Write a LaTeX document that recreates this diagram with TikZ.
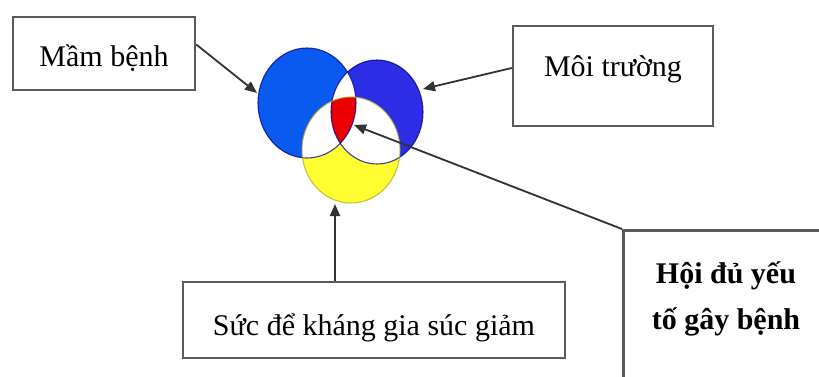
\documentclass[tikz,border=0pt]{standalone}
\usepackage{fontspec}
\setmainfont{Liberation Serif}
\usetikzlibrary{arrows.meta}
\definecolor{lblue}{RGB}{10,90,240}
\definecolor{rblue}{RGB}{45,45,230}
\definecolor{vyellow}{RGB}{255,255,50}
\definecolor{vred}{RGB}{235,0,0}
\definecolor{boxgray}{RGB}{90,90,90}
\definecolor{arrowgray}{RGB}{50,50,50}
\definecolor{blueedge}{RGB}{0,0,140}
\definecolor{yedge}{RGB}{180,170,40}
\begin{document}
\begin{tikzpicture}[x=1pt,y=-1pt,
  box/.style={draw=boxgray, line width=2.5pt, fill=white, inner sep=0pt},
  lbl/.style={font=\fontsize{30}{45}\selectfont},
  blbl/.style={font=\fontsize{30}{46}\selectfont\bfseries},
  arr/.style={draw=arrowgray, line width=1.8pt, -{Triangle[length=12pt,width=10pt]}},
  edge/.style={line width=1.1pt, draw opacity=0.75},
]
\useasboundingbox (0,0) rectangle (819,377);
\clip (0,0) rectangle (819,377);
\fill[white] (0,0) rectangle (819,377);

% three circles
\fill[lblue] (307,103) ellipse [x radius=49, y radius=55];
\fill[rblue] (377,112) ellipse [x radius=46, y radius=52];
\fill[vyellow] (351,150) ellipse [x radius=49, y radius=53];
% pairwise intersections (white)
\begin{scope}
  \clip (307,103) ellipse [x radius=49, y radius=55];
  \fill[white] (377,112) ellipse [x radius=46, y radius=52];
  \fill[white] (351,150) ellipse [x radius=49, y radius=53];
\end{scope}
\begin{scope}
  \clip (377,112) ellipse [x radius=46, y radius=52];
  \fill[white] (351,150) ellipse [x radius=49, y radius=53];
\end{scope}
% triple intersection (red)
\begin{scope}
  \clip (307,103) ellipse [x radius=49, y radius=55];
  \clip (377,112) ellipse [x radius=46, y radius=52];
  \fill[vred] (351,150) ellipse [x radius=49, y radius=53];
\end{scope}
% outlines
\draw[edge, blueedge] (307,103) ellipse [x radius=49, y radius=55];
\draw[edge, blueedge] (377,112) ellipse [x radius=46, y radius=52];
\draw[edge, yedge] (351,150) ellipse [x radius=49, y radius=53];

% arrow targets
\coordinate (tipL) at (257,93);
\coordinate (tipR) at (423,89);
\coordinate (tipS) at (335,204);
\coordinate (tipC) at (354,125);

% boxes
\node[box, lbl, minimum width=182, minimum height=73, text height=50, text depth=23] (mb) at (104,53.5) {Mầm bệnh};
\node[box, lbl, minimum width=200, minimum height=100, text height=51, text depth=49] (mt) at (613,76) {Môi trường};
\node[box, lbl, minimum width=382, minimum height=76, text height=53, text depth=23] (sd) at (374,320) {Sức để kháng gia súc giảm};
\node[box, anchor=north west, minimum width=230, minimum height=180] (hd) at (622,229) {};
\node[blbl, align=center] (hdt) at (726,299) {Hội đủ yếu\\tố gây bệnh};

% connectors
\draw[arr] ([yshift=9pt]mb.east) -- (tipL);
\draw[arr] ([yshift=8pt]mt.west) -- (tipR);
\draw[arr] (sd.north -| tipS) -- (tipS);
\draw[arr] (hd.north west) -- (tipC);
\end{tikzpicture}
\end{document}
